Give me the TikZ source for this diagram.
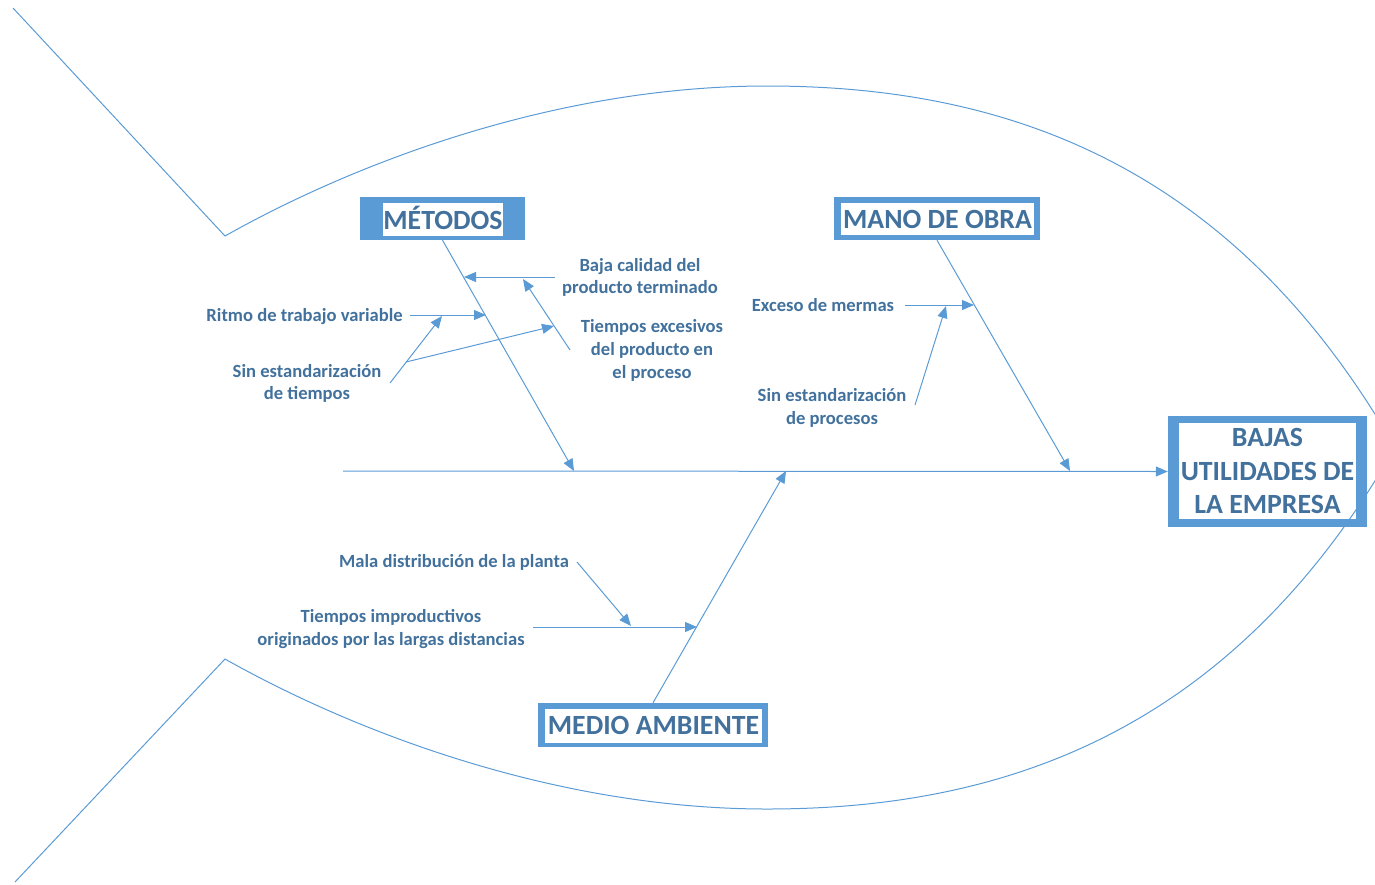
\documentclass[tikz,border=0pt]{standalone}
\usepackage{fontspec}
\setmainfont{Carlito}
\usetikzlibrary{arrows.meta}
\definecolor{lineblue}{HTML}{5B9BD5}
\definecolor{textblue}{HTML}{41719C}
\begin{document}
\begin{tikzpicture}[x=1pt,y=-1pt,
  conn/.style={draw=lineblue, line width=1pt},
  arr/.style={conn, -{Triangle[length=12pt,width=10pt]}},
  lbl/.style={text=textblue, font=\bfseries\fontsize{18.6}{22.8}\selectfont, align=center, inner sep=0pt},
  outerbox/.style={fill=lineblue, inner sep=0pt},
  innerbox/.style={fill=white, inner sep=0pt, text=textblue, font=\bfseries\fontsize{27.8}{33.5}\selectfont, align=center}]
\useasboundingbox (0,0) rectangle (1375,884);
\clip (0,0) rectangle (1375,884);

% boxes
\node[outerbox, minimum width=165pt, minimum height=43pt] (met) at (442.5,218.5) {};
\node[innerbox, minimum width=120pt, minimum height=33pt] (metT) at (443,219.5) {};
\node[text=textblue, font=\bfseries\fontsize{27.8}{33.5}\selectfont, inner sep=0pt] (metL) at (443,218) {MÉTODOS};
\node[outerbox, minimum width=206pt, minimum height=43pt] (mano) at (937,218.5) {};
\node[innerbox, minimum width=193pt, minimum height=32pt] (manoT) at (937.5,219) {MANO DE OBRA};
\node[outerbox, minimum width=230pt, minimum height=44pt] (med) at (653,725) {};
\node[innerbox, minimum width=217pt, minimum height=34pt] (medT) at (653.5,725.5) {MEDIO AMBIENTE};
\node[outerbox, minimum width=199pt, minimum height=111pt] (bajas) at (1267.5,471.5) {};
\node[innerbox, minimum width=177pt, minimum height=96pt] (bajasT) at (1267.5,471) {BAJAS\\UTILIDADES DE\\LA EMPRESA};

% labels
\node[lbl] (baja) at (640,277.5) {Baja calidad del\\producto terminado};
\node[lbl] (texc) at (652,350.5) {Tiempos excesivos\\del producto en\\el proceso};
\node[lbl, anchor=east] (ritmo) at (403,316.5) {Ritmo de trabajo variable};
\node[lbl] (sint) at (307,383.5) {Sin estandarización\\de tiempos};
\node[lbl] (exc) at (823,305.5) {Exceso de mermas};
\node[lbl] (sinp) at (832,408) {Sin estandarización\\de procesos};
\node[lbl] (mala) at (454,562.5) {Mala distribución de la planta};
\node[lbl] (timp) at (391,629) {Tiempos improductivos\\originados por las largas distancias};

% spine and bones
\coordinate (tail) at (343,471);
\draw[arr] (tail) -- (bajas.west);
\coordinate (metEnd) at (574,471);
\draw[arr] (met.south) -- (metEnd);
\coordinate (manoEnd) at (1070,471);
\draw[arr] (mano.south) -- (manoEnd);
\coordinate (medEnd) at (786,471);
\draw[arr] (med.north) -- (medEnd);

% metodos sub-causes
\coordinate (bajaS) at (555,277); \coordinate (bajaE) at (464,277);
\draw[arr] (bajaS) -- (bajaE);
\coordinate (texS) at (570,350); \coordinate (texE) at (523,279);
\draw[arr] (texS) -- (texE);
\coordinate (ritS) at (410,315); \coordinate (ritE) at (486,315);
\draw[arr] (ritS) -- (ritE);
\coordinate (sinS) at (390,383); \coordinate (sinE) at (442,316);
\draw[arr] (sinS) -- (sinE);
\coordinate (sinB) at (406,362); \coordinate (sinE2) at (554,326);
\draw[arr] (sinB) -- (sinE2);

% mano de obra sub-causes
\coordinate (excS) at (905,305); \coordinate (excE) at (974,305);
\draw[arr] (excS) -- (excE);
\coordinate (sinpS) at (915,405); \coordinate (sinpE) at (946,306);
\draw[arr] (sinpS) -- (sinpE);

% medio ambiente sub-causes
\coordinate (timpS) at (533,627); \coordinate (timpE) at (697,627);
\draw[arr] (timpS) -- (timpE);
\coordinate (malaS) at (577,562); \coordinate (malaE) at (631,626);
\draw[arr] (malaS) -- (malaE);

% fish outline
\draw[conn] (13,8) -- (225,236)
  .. controls (360,160) and (560,86) .. (767,86)
  .. controls (1000,86) and (1230,160) .. (1395,447.5);
\draw[conn] (15,882) -- (225,659)
  .. controls (360,735) and (560,809) .. (767,809)
  .. controls (1000,809) and (1230,735) .. (1395,447.5);
\end{tikzpicture}
\end{document}
